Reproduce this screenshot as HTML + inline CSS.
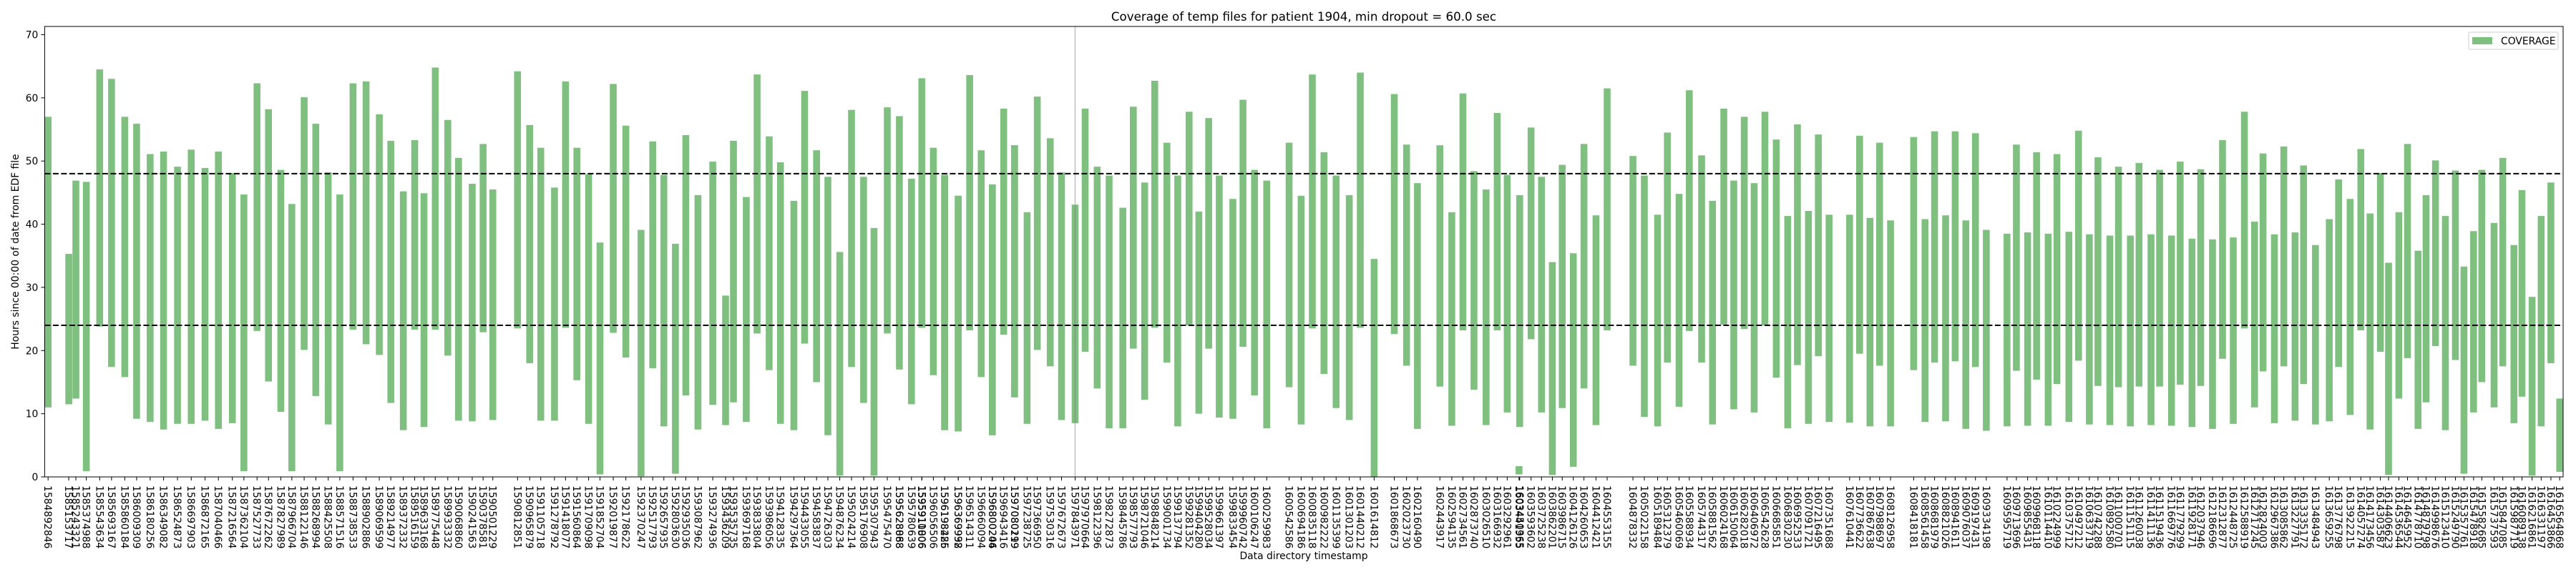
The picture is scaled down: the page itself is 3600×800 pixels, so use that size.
<!DOCTYPE html>
<html><head><meta charset="utf-8"><style>
html,body{margin:0;padding:0;background:#fff;}
svg{display:block;font-family:"DejaVu Sans","Liberation Sans",sans-serif;}
</style></head><body>
<svg id="chart" width="3600" height="800" viewBox="0 0 3600 800" xmlns="http://www.w3.org/2000/svg">
<text x="1822" y="29" font-size="16.7" text-anchor="middle">Coverage of temp files for patient 1904, min dropout = 60.0 sec</text>
<text x="1822" y="782" font-size="13.9" text-anchor="middle">Data directory timestamp</text>
<text transform="translate(26,352) rotate(-90)" font-size="13.9" text-anchor="middle">Hours since 00:00 of date from EDF file</text>
<g id="plot"></g>
<g>
<rect x="3450" y="45" width="125" height="24" fill="#fff" stroke="#ccc" stroke-width="1" rx="2"/>
<rect x="3455" y="52" width="28" height="10" fill="#7fbf7f"/>
<text x="3495" y="62" font-size="13.9">COVERAGE</text>
</g>
</svg>
<script>
const timestamps = [1584892846,1585153717,1585243321,1585374988,1585543634,1585693167,1585860184,1586009309,1586180256,1586349082,1586524873,1586697903,1586872165,1587040466,1587216564,1587362104,1587527733,1587672262,1587827989,1587966704,1588122146,1588268994,1588425508,1588571516,1588738533,1588902886,1589069599,1589214977,1589372332,1589516159,1589633168,
1589775448,1589933332,1590068860,1590241563,1590378581,1590501229,1590812851,1590965879,1591105718,1591278792,1591418077,1591560864,1591709098,1591852704,1592019877,1592178622,1592370247,1592517793,1592657935,1592803630,1592935036,1593087962,1593274936,1593436209,1593535735,1593697168,1593833804,1593986056,1594128335,1594297364,1594433055,1594583837,1594726303,1594876234,1595024214,
1595176908,1595307943,1595475470,1595628068,1595628888,1595780639,1595910806,1595911006,1596056506,1596198285,1596198426,1596369938,1596369992,1596514311,1596660094,1596800206,1596800244,1596943416,1597080199,1597080219,1597238725,1597366950,1597530316,1597672673,1597843971,1597970664,1598122396,1598272873,1598445786,1598577793,1598721046,1598848214,1599001734,1599137794,1599281352,1599404280,1599528034,1599661397,1599833454,1599960742,1600106247,1600259983,
1600542586,1600694186,1600835118,1600982222,1601135399,1601301203,1601440212,1601614812,1601868673,1602023730,1602160490,1602443917,1602594135,1602734561,1602873740,1603026510,1603166932,1603292961,1603441955,1603450365,1603593602,1603725238,1603862201,1603986715,1604126126,1604260653,1604412421,1604553155,1604878332,1605022158,1605189484,1605312379,1605460069,1605588934,1605744317,1605881562,
1606024168,1606150064,1606282018,1606406972,1606542628,1606685851,1606830230,1606952533,1607091721,1607216495,1607351688,1607610441,1607736622,1607867638,1607988697,1608126958,1608418181,1608561458,1608681979,1608821026,1608941611,1609076037,1609197431,1609334198,1609595719,1609713696,1609855431,1609968118,1610114410,1610224999,1610375712,1610497212,1610633719,1610742288,1610892580,1611000701,1611151115,1611260038,
1611411136,1611519436,1611669776,1611779299,1611928171,1612037946,1612186696,1612312877,1612448725,1612588919,1612717245,1612824003,1612967386,1613085862,1613227791,1613335172,1613484943,1613659255,1613776798,1613922215,1614057274,1614173456,1614303587,1614406623,1614536544,1614645952,1614778710,1614879798,1614998676,1615123410,1615249790,1615357761,1615478918,1615582685,1615737593,1615847085,1615987719,1616089138,1616216861,1616331197,1616453866,1616564868];
const highs = [57.0,35.3,46.9,46.7,64.5,63.0,57.0,55.9,51.1,51.5,49.1,51.8,48.9,51.5,48.1,44.7,62.3,58.2,48.6,43.2,60.1,55.9,48.2,44.7,62.3,62.6,57.4,53.2,45.2,53.3,44.9,
64.8,56.5,50.5,46.4,52.7,45.5,64.2,55.7,52.1,45.8,62.6,52.1,47.9,37.1,62.2,55.6,39.1,53.1,47.8,36.9,54.1,44.6,49.9,28.7,53.2,44.3,63.7,53.9,49.8,43.7,61.1,51.7,47.5,35.6,58.1,
47.5,39.4,58.5,57.1,17.3,47.2,63.1,63.1,52.1,47.8,47.8,44.5,44.5,63.6,51.7,46.3,46.3,58.3,52.5,52.5,41.9,60.2,53.6,48.2,43.1,58.3,49.1,47.7,42.6,58.6,46.6,62.7,52.9,47.7,57.8,42.0,56.8,47.7,44.0,59.7,48.6,46.9,
52.9,44.5,63.7,51.4,47.7,44.6,64.0,34.5,60.6,52.6,46.5,52.5,41.9,60.7,48.4,45.5,57.6,47.8,1.7,44.6,55.3,47.5,34.0,49.4,35.4,52.7,41.4,61.5,50.8,47.7,41.5,54.5,44.8,61.2,50.9,43.7,
58.3,46.9,57.0,46.5,57.8,53.4,41.3,55.8,42.1,54.2,41.5,41.5,54.0,41.0,52.9,40.6,53.8,40.8,54.7,41.4,54.7,40.6,54.4,39.1,38.5,52.6,38.7,51.4,38.5,51.1,38.8,54.8,38.4,50.6,38.2,49.1,38.2,49.7,
38.4,48.6,38.2,49.9,37.7,48.7,37.6,53.3,37.9,57.8,40.4,51.2,38.4,52.3,38.7,49.3,36.7,40.8,47.1,44.0,51.9,41.7,48.1,33.9,41.9,52.7,35.8,44.6,50.1,41.3,48.5,33.3,38.9,48.6,40.2,50.5,36.7,45.4,28.5,41.3,46.6,12.4];
const lows = [11.0,11.5,12.4,0.9,23.8,17.4,15.8,9.2,8.7,7.5,8.4,8.4,8.9,7.6,8.5,0.9,23.1,15.1,10.3,0.9,20.1,12.8,8.3,0.9,23.3,21.0,19.3,11.7,7.4,23.3,7.9,
23.3,19.2,8.9,8.8,22.9,9.0,23.5,18.0,8.9,8.9,23.6,15.3,8.4,0.4,22.8,18.9,0.1,17.2,8.0,0.5,12.9,7.5,11.4,8.2,11.8,8.7,22.7,16.9,8.4,7.4,21.1,15.0,6.6,0.2,17.4,
11.7,0.2,22.7,17.3,17.0,11.5,23.6,23.6,16.1,7.4,7.4,7.2,7.2,23.2,15.8,6.6,6.6,22.5,12.6,12.6,8.4,20.1,17.5,9.0,8.5,19.8,14.0,7.7,7.7,20.3,12.2,23.6,18.1,8.0,24.0,10.0,20.3,9.4,9.2,20.6,12.9,7.7,
14.2,8.3,23.5,16.3,10.9,9.0,23.6,0.0,22.6,17.6,7.6,14.3,8.1,23.2,13.8,8.2,23.2,10.2,0.4,7.9,21.8,10.2,0.3,10.9,1.6,14.0,8.2,23.2,17.6,9.5,8.0,18.1,11.1,23.1,18.1,8.3,
24.1,10.7,23.4,10.2,24.0,15.7,7.7,17.7,8.4,19.1,8.7,8.6,19.5,8.0,17.6,8.0,16.9,8.7,18.1,8.8,18.3,7.6,17.4,7.3,8.0,16.8,8.1,15.4,8.1,14.7,8.7,18.4,8.3,14.4,8.2,14.2,8.0,14.3,
8.2,14.3,8.1,14.6,7.9,14.4,7.6,18.7,8.4,23.5,11.0,16.7,8.5,17.5,8.9,14.7,8.3,8.8,17.4,9.8,23.2,7.5,19.8,0.3,12.4,18.8,7.6,11.8,20.7,7.4,18.5,0.5,10.2,15.0,11.0,17.5,8.5,12.7,0.2,8.0,18.0,0.8];
const yTicks = [0,10,20,30,40,50,60,70];
const refLines = [24,48];
const markerTs = [1597843971];
const barWidthSec = 86400;

const NS = "http://www.w3.org/2000/svg";
const L = 62.4, R = 3582, T = 37, B = 667, YMAX = 71.3;
const xMin = timestamps[0] - barWidthSec/2, xMax = timestamps[timestamps.length-1] + barWidthSec/2;
function xs(t){ return L + (t - xMin) / (xMax - xMin) * (R - L); }
function ys(v){ return B - v / YMAX * (B - T); }
const plot = document.getElementById('plot');
function mk(tag, attrs){ const e = document.createElementNS(NS, tag); for (const k in attrs) e.setAttribute(k, attrs[k]); plot.appendChild(e); return e; }

const bw = xs(xMin + barWidthSec) - xs(xMin);
timestamps.forEach((t, i) => {
  const x = xs(t);
  const b = mk('rect', {x: x - bw/2, y: ys(highs[i]), width: bw, height: Math.max(0, ys(lows[i]) - ys(highs[i])), fill: '#7fbf7f'});
  
  
  const tk = mk('line', {x1: x, x2: x, y1: B, y2: B + 5, stroke: '#000', 'stroke-width': 1});
  
  
  const lb = mk('text', {transform: `translate(${x - 5},${B + 12}) rotate(90)`, 'font-size': 13.9});
  lb.textContent = String(timestamps[i]);
  
  
});
markerTs.forEach(t => {
  const ml = mk('line', {x1: xs(t), x2: xs(t), y1: T, y2: B, stroke: 'rgba(128,128,128,0.5)', 'stroke-width': 1.5});
  
  
});
refLines.forEach(v => {
  const rl = mk('line', {x1: L, x2: R, y1: ys(v), y2: ys(v), stroke: '#000', 'stroke-width': 2, 'stroke-dasharray': '8,3.5'});
  
  
});
yTicks.forEach(v => {
  const tk = mk('line', {x1: L - 5, x2: L, y1: ys(v), y2: ys(v), stroke: '#000', 'stroke-width': 1});
  
  
  const lb = mk('text', {x: L - 9, y: ys(v) + 5, 'font-size': 13.9, 'text-anchor': 'end'});
  lb.textContent = String(v);
  
  
});
const frame = mk('rect', {x: L, y: T, width: R - L, height: B - T, fill: 'none', stroke: '#000', 'stroke-width': 1});


</script>
</body></html>
